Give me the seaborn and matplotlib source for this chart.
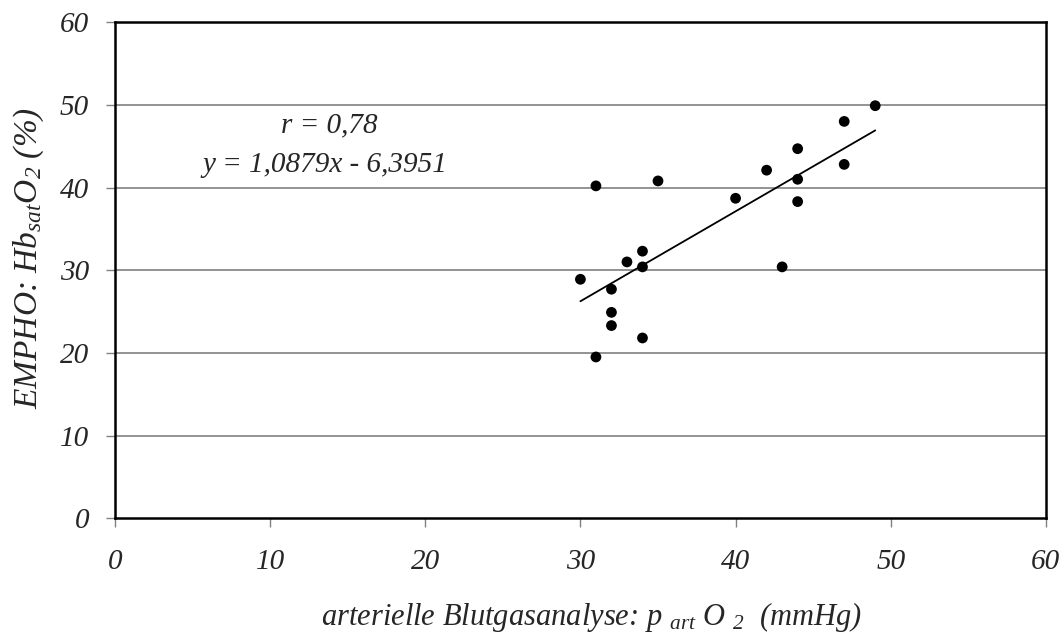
import numpy as np
import pandas as pd
import matplotlib
matplotlib.use("Agg")
import matplotlib.pyplot as plt
import seaborn as sns

# --- Daten ---
pao2 = [30, 31, 31, 32, 32, 32, 33, 34, 34, 34, 35, 40, 42, 43, 44, 44, 44, 47, 47, 49]
hbsat = [28.9, 40.2, 19.5, 27.7, 24.9, 23.3, 31.0, 32.3, 30.4, 21.8, 40.8, 38.7, 42.1, 30.4,
         44.7, 41.0, 38.3, 48.0, 42.8, 49.9]
steigung = 1.0879
achsenabschnitt = -6.3951
r_wert = "0,78"

df = pd.DataFrame({"pao2": pao2, "hbsat": hbsat})

sns.set_style("white")
plt.rcParams["font.family"] = ["Liberation Serif"]
plt.rcParams["font.style"] = "italic"
plt.rcParams["mathtext.fontset"] = "custom"
plt.rcParams["mathtext.rm"] = "Liberation Serif:italic"
plt.rcParams["mathtext.it"] = "Liberation Serif:italic"

fig, ax = plt.subplots(figsize=(10.64, 6.35), dpi=100)
fig.subplots_adjust(left=0.108, right=0.983, top=0.965, bottom=0.184)

# Gitterlinien
for yv in range(10, 60, 10):
    ax.axhline(yv, color="#808080", lw=1.2, zorder=0)

sns.scatterplot(data=df, x="pao2", y="hbsat", color="black", s=60, edgecolor="none", ax=ax, zorder=3)

# Regressionsgerade
xs = np.array([min(pao2), max(pao2)])
ax.plot(xs, steigung * xs + achsenabschnitt, color="black", lw=1.3, zorder=2)

ax.set_xlim(0, 60)
ax.set_ylim(0, 60)
ax.set_xticks(range(0, 61, 10))
ax.set_yticks(range(0, 61, 10))
ax.tick_params(axis="both", direction="out", length=6.5, width=1, color="#808080",
               labelsize=21, left=True, bottom=True)
ax.tick_params(axis="x", pad=16)
ax.tick_params(axis="y", pad=12)
for sp in ax.spines.values():
    sp.set_color("black")
    sp.set_linewidth(1.8)

ax.set_xlabel(r"arterielle Blutgasanalyse: p $_{art}$ O $_{2}$  (mmHg)", fontsize=22)
ax.set_ylabel(r"EMPHO: Hb$_{sat}$O$_{2}$ (%)", fontsize=24)
ax.xaxis.set_label_coords(0.512, -0.165)
ax.yaxis.set_label_coords(-0.074, 0.524)

ax.text(13.8, 47.5, "r = " + r_wert, fontsize=21, ha="center", va="center")
ax.text(13.5, 42.7, "y = 1,0879x - 6,3951", fontsize=21, ha="center", va="center")

plt.savefig("out.png", dpi=100)
